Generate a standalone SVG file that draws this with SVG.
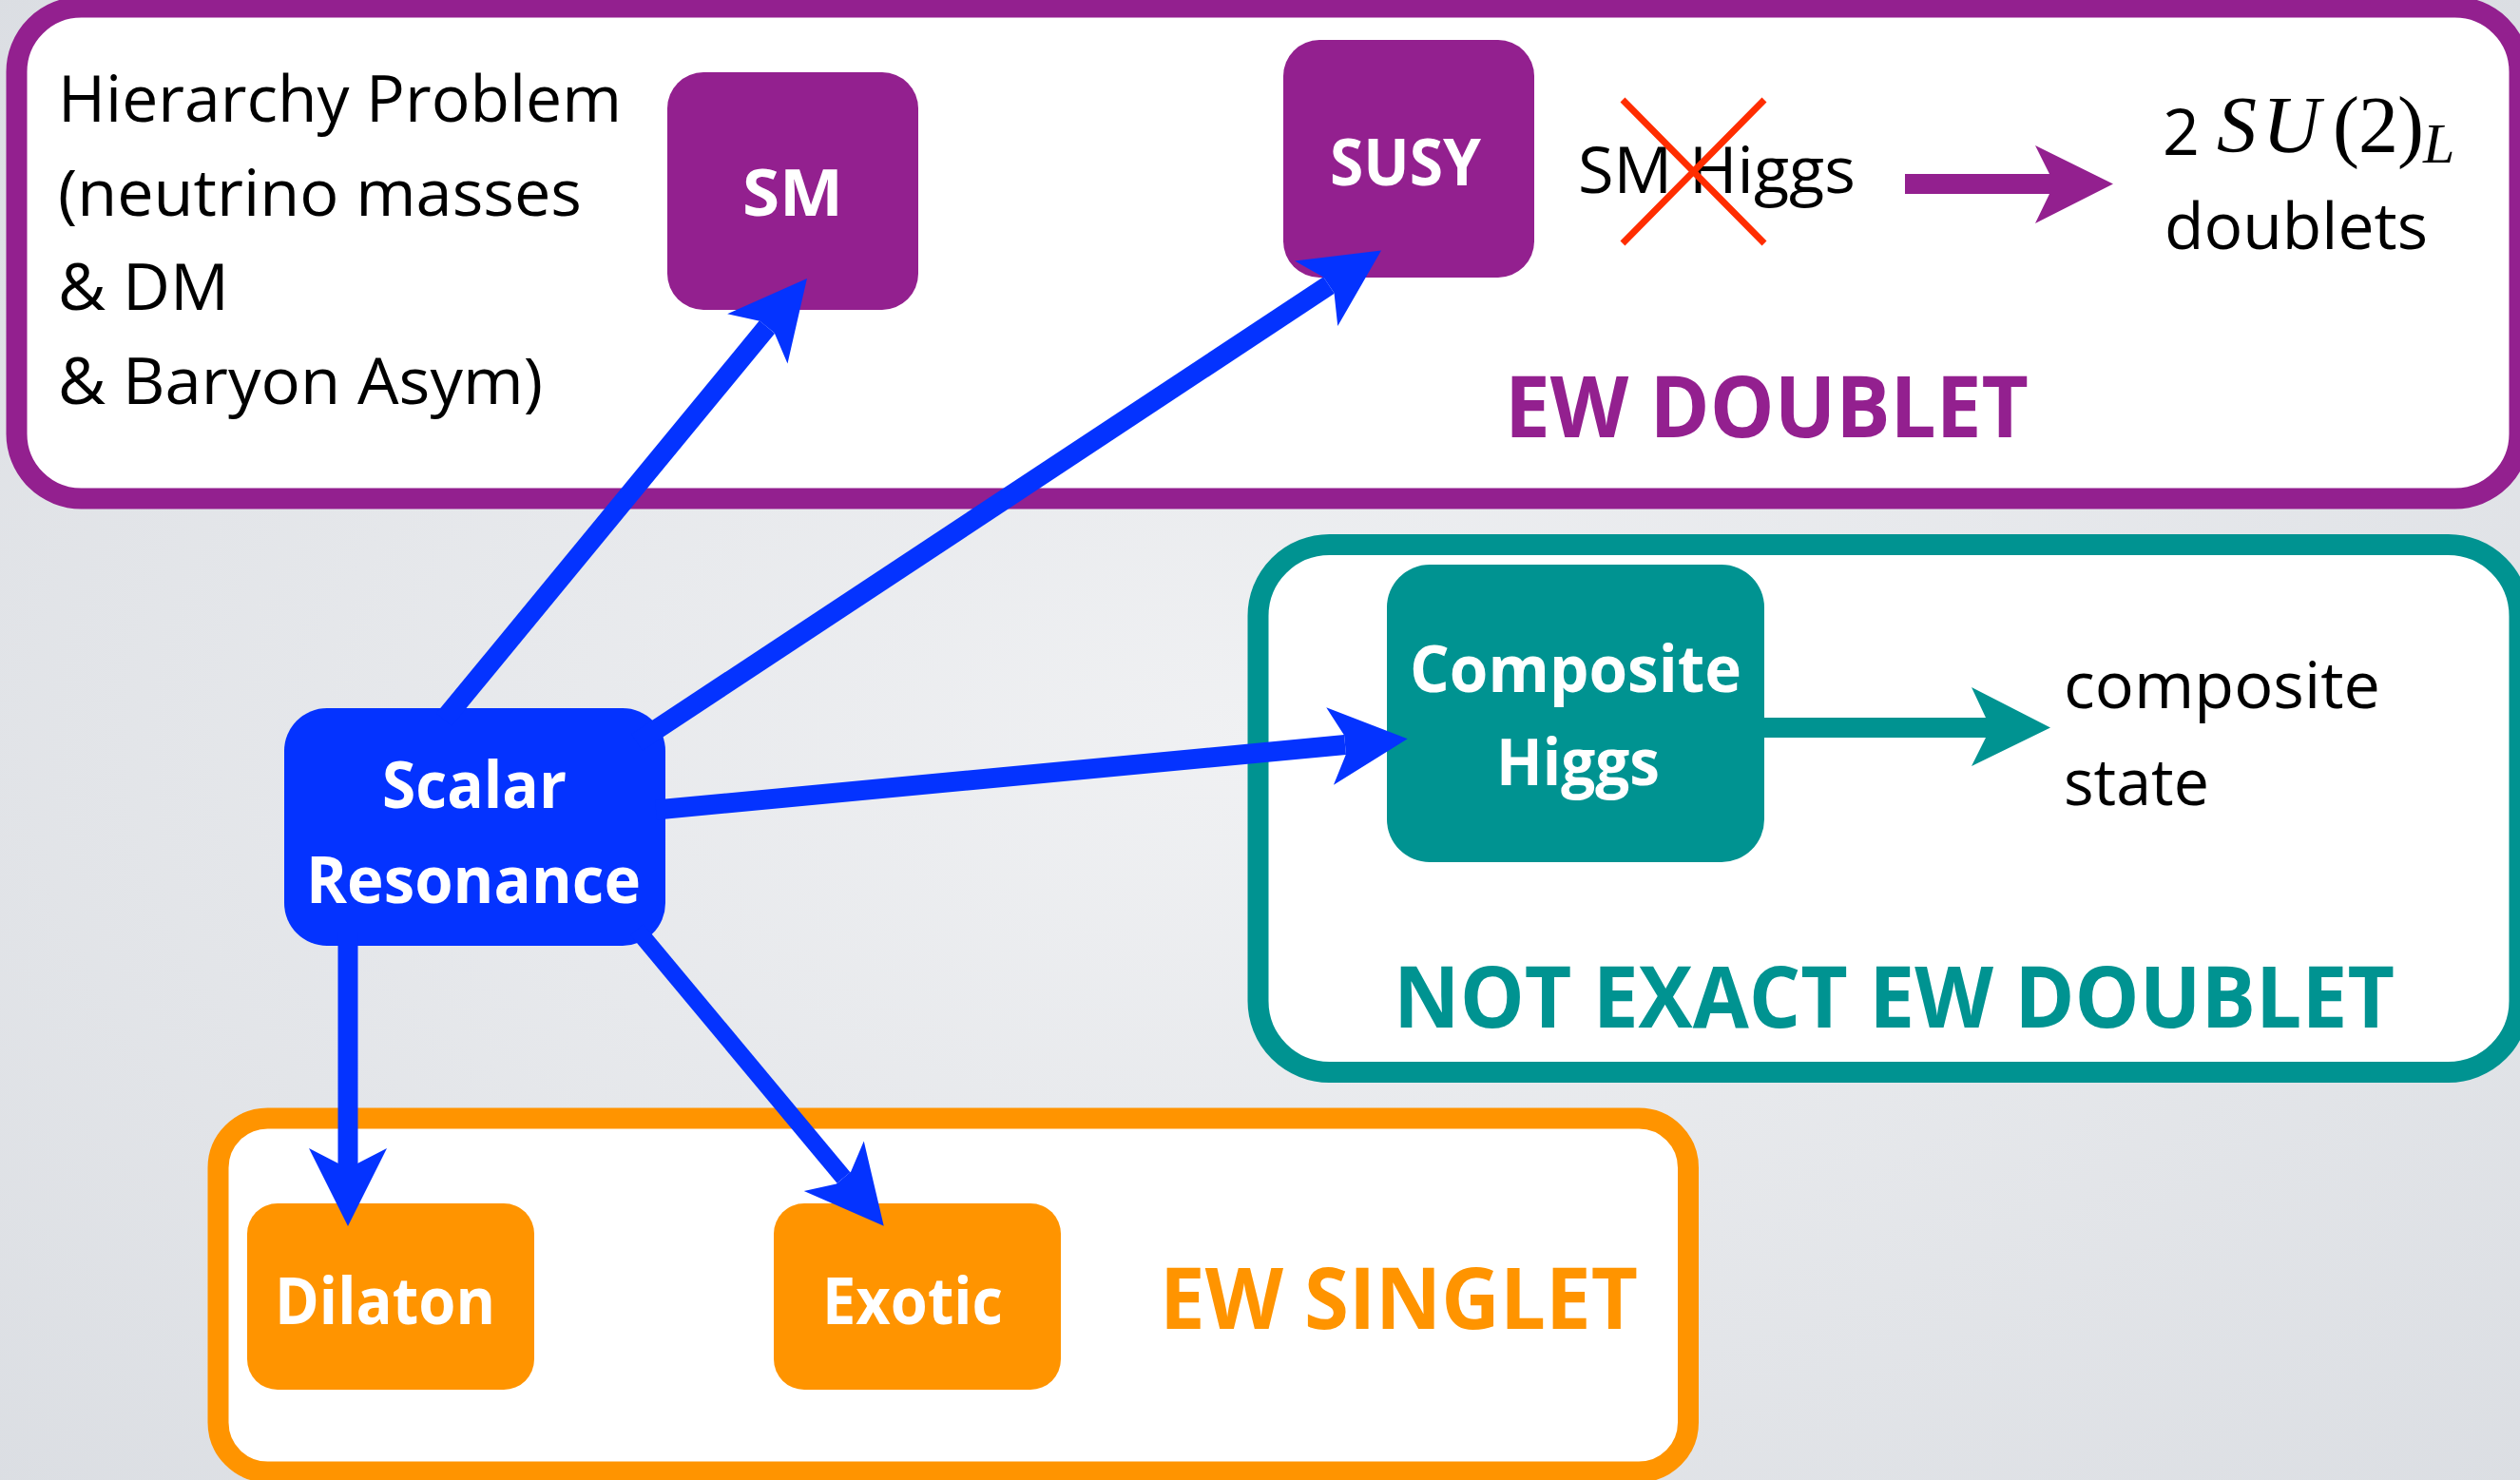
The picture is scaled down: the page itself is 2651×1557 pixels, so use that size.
<svg xmlns="http://www.w3.org/2000/svg" width="2651" height="1557" viewBox="0 0 2651 1557">
  <defs>
    <radialGradient id="bg" cx="50%" cy="50%" r="75%">
      <stop offset="0" stop-color="#F0F1F3"/>
      <stop offset="1" stop-color="#DADDE2"/>
    </radialGradient>
    <!-- notched arrowhead; the shaft line ends at the notch (x=0) -->
    <marker id="head" markerUnits="userSpaceOnUse" orient="auto" viewBox="-20 -45 90 90" refX="0" refY="0" markerWidth="90" markerHeight="90" overflow="visible">
      <path d="M66,0 L-16,41 L0,10 L0,-10 L-16,-41 Z" fill="#0433FF"/>
    </marker>
    <style>
      .frame { fill: #ffffff; stroke-width: 22; }
      .purple { fill: #93208F; }
      .teal { fill: #009391; }
      .orange { fill: #FF9400; }
      .blue { fill: #0433FF; }
      .txt { font-family: "Open Sans", "Liberation Sans", sans-serif; font-size: 68px; fill: #000000; }
      .lbl { font-family: "Open Sans", "Liberation Sans", sans-serif; font-size: 68px; font-weight: 700; fill: #ffffff; }
      .sec { font-family: "Open Sans", "Liberation Sans", sans-serif; font-size: 89px; font-weight: 700; }
      .math { font-family: "Liberation Serif", "DejaVu Serif", serif; fill: #000000; }
      .link { stroke: #0433FF; fill: none; marker-end: url(#head); }
    </style>
  </defs>

  <!-- background -->
  <rect width="2651" height="1557" fill="url(#bg)"/>

  <!-- EW doublet region -->
  <g id="ew-doublet">
    <rect class="frame" x="17.5" y="7.5" width="2633" height="517" rx="68" stroke="#93208F"/>
    <text class="sec" x="1583" y="460" textLength="551" lengthAdjust="spacingAndGlyphs" fill="#93208F">EW DOUBLET</text>
  </g>

  <!-- not exact EW doublet region -->
  <g id="not-exact-doublet">
    <rect class="frame" x="1323.5" y="573" width="1327" height="555" rx="75" stroke="#009391"/>
    <text class="sec" x="1466" y="1081" textLength="1053" lengthAdjust="spacingAndGlyphs" fill="#009391">NOT EXACT EW DOUBLET</text>
  </g>

  <!-- EW singlet region -->
  <g id="ew-singlet">
    <rect class="frame" x="229.5" y="1176.5" width="1546.5" height="372" rx="52" stroke="#FF9400"/>
    <text class="sec" x="1220" y="1398" textLength="503" lengthAdjust="spacingAndGlyphs" fill="#FF9400">EW SINGLET</text>
  </g>

  <!-- motivation note -->
  <g id="motivation">
    <text class="txt" x="61" y="128" textLength="593" lengthAdjust="spacingAndGlyphs">Hierarchy Problem</text>
    <text class="txt" x="61" y="227" textLength="551" lengthAdjust="spacingAndGlyphs">(neutrino masses</text>
    <text class="txt" x="61" y="326" textLength="180" lengthAdjust="spacingAndGlyphs">&amp; DM</text>
    <text class="txt" x="61" y="425" textLength="510" lengthAdjust="spacingAndGlyphs">&amp; Baryon Asym)</text>
  </g>

  <!-- nodes -->
  <g id="sm">
    <rect class="purple" x="702" y="76" width="264" height="250" rx="38"/>
    <text class="lbl" x="781" y="227" textLength="106" lengthAdjust="spacingAndGlyphs">SM</text>
  </g>

  <g id="susy">
    <rect class="purple" x="1350" y="42" width="264" height="250" rx="38"/>
    <text class="lbl" x="1399" y="195" textLength="159" lengthAdjust="spacingAndGlyphs">SUSY</text>
  </g>

  <g id="sm-higgs">
    <text class="txt" x="1660" y="203" textLength="292" lengthAdjust="spacingAndGlyphs">SM Higgs</text>
    <path d="M1707,105 L1856,256 M1856,105 L1707,256" stroke="#FF2D00" stroke-width="7" fill="none"/>
  </g>

  <g id="two-doublets">
    <text class="txt" x="2275" y="163">2</text>
    <text class="math" font-size="84" y="160"><tspan x="2332" font-style="italic">S</tspan><tspan x="2380" font-style="italic">U</tspan><tspan x="2454">(</tspan><tspan x="2481">2</tspan><tspan x="2522">)</tspan></text>
    <text class="math" font-size="60" x="2549" y="171" font-style="italic">L</text>
    <text class="txt" x="2277" y="262" textLength="277" lengthAdjust="spacingAndGlyphs">doublets</text>
  </g>

  <g id="composite-higgs">
    <rect class="teal" x="1459" y="594" width="397" height="313" rx="45"/>
    <text class="lbl" x="1483" y="728" textLength="349" lengthAdjust="spacingAndGlyphs">Composite</text>
    <text class="lbl" x="1574" y="826" textLength="172" lengthAdjust="spacingAndGlyphs">Higgs</text>
  </g>

  <g id="composite-state">
    <text class="txt" x="2171" y="745" textLength="333" lengthAdjust="spacingAndGlyphs">composite</text>
    <text class="txt" x="2171" y="847" textLength="153" lengthAdjust="spacingAndGlyphs">state</text>
  </g>

  <g id="scalar-resonance">
    <rect class="blue" x="299" y="745" width="401" height="250" rx="45"/>
    <text class="lbl" x="402" y="850" textLength="194" lengthAdjust="spacingAndGlyphs">Scalar</text>
    <text class="lbl" x="322" y="950" textLength="352" lengthAdjust="spacingAndGlyphs">Resonance</text>
  </g>

  <g id="dilaton">
    <rect class="orange" x="260" y="1266" width="302" height="196" rx="32"/>
    <text class="lbl" x="289" y="1393" textLength="232" lengthAdjust="spacingAndGlyphs">Dilaton</text>
  </g>

  <g id="exotic">
    <rect class="orange" x="814" y="1266" width="302" height="196" rx="32"/>
    <text class="lbl" x="865" y="1393" textLength="190" lengthAdjust="spacingAndGlyphs">Exotic</text>
  </g>

  <!-- connectors -->
  <g id="connectors">
    <line class="link" x1="467" y1="757" x2="807" y2="344" stroke-width="21"/>
    <line class="link" x1="670" y1="781" x2="1398" y2="300" stroke-width="21"/>
    <line class="link" x1="690" y1="852" x2="1415" y2="783.5" stroke-width="21"/>
    <line class="link" x1="366" y1="980" x2="366" y2="1224" stroke-width="21"/>
    <line class="link" x1="670" y1="978" x2="887.5" y2="1239" stroke-width="18"/>
    <polygon class="purple" points="2004,183 2156,183 2141,153 2223,193.5 2141,235 2156,204 2004,204"/>
    <polygon class="teal" points="1856,755 2089,755 2074,723 2157,765.5 2074,806 2089,776 1856,776"/>
  </g>
</svg>
